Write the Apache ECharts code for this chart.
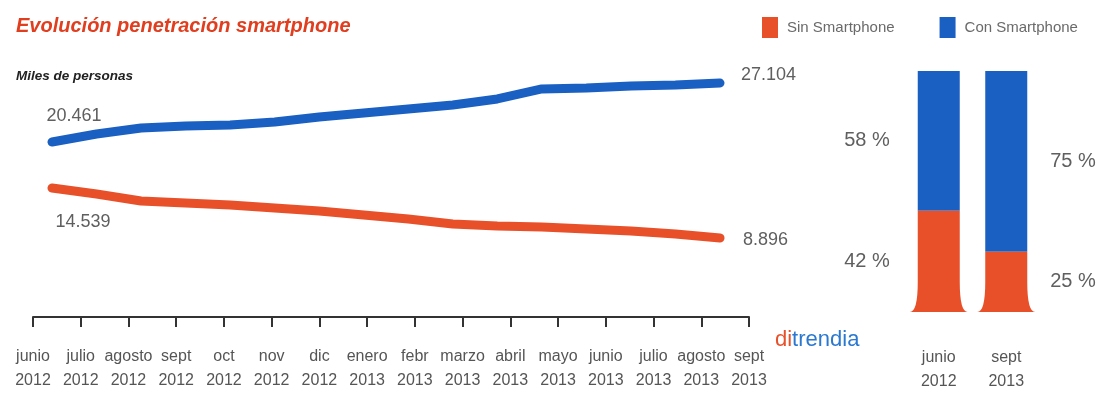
<!DOCTYPE html>
<html>
<head>
<meta charset="utf-8">
<script src="https://cdn.jsdelivr.net/npm/echarts@6/dist/echarts.min.js"></script>
<style>
  html, body { margin: 0; padding: 0; background: #fff; }
  #chart { width: 1100px; height: 394px; }
</style>
</head>
<body>
<div id="chart"></div>
<script>
// Meses del periodo (etiquetas del eje)
const meses = ['junio\n2012', 'julio\n2012', 'agosto\n2012', 'sept\n2012', 'oct\n2012', 'nov\n2012',
  'dic\n2012', 'enero\n2013', 'febr\n2013', 'marzo\n2013', 'abril\n2013', 'mayo\n2013',
  'junio\n2013', 'julio\n2013', 'agosto\n2013', 'sept\n2013'];

// Miles de personas
const conSmartphone = [20461, 21362, 22037, 22262, 22375, 22713, 23276, 23726,
  24177, 24627, 25303, 26429, 26541, 26766, 26879, 27104];
const sinSmartphone = [14539, 13862, 13072, 12846, 12620, 12282, 11943, 11492,
  11040, 10476, 10250, 10137, 9913, 9686, 9347, 8896];

// Reparto porcentual al inicio y al final
const fechasBarras = ['junio\n2012', 'sept\n2013'];
const sinPct = [42, 25];
const conPct = [58, 75];

const FONT = '"Liberation Sans", Arial, sans-serif';
const AZUL = '#1a5fc2';
const NARANJA = '#e8502a';
const GRIS = '#5f5f5f';

const fmt = v => String(v).replace(/\B(?=(\d{3})+(?!\d))/g, '.');

const labelBase = { show: true, fontFamily: FONT, fontSize: 18, color: GRIS, formatter: p => fmt(p.value) };

function conEtiquetas(values, first, last) {
  return values.map((v, i) => {
    if (i === 0) return { value: v, label: Object.assign({}, labelBase, first) };
    if (i === values.length - 1) return { value: v, label: Object.assign({}, labelBase, last) };
    return v;
  });
}

const chart = echarts.init(document.getElementById('chart'), null, { renderer: 'canvas' });

chart.setOption({
  animation: false,
  backgroundColor: '#fff',
  title: [
    {
      text: 'Evolución penetración smartphone',
      left: 11, top: 11,
      textStyle: { fontFamily: FONT, fontSize: 20, fontStyle: 'italic', fontWeight: 'bold', color: '#e03e1e' }
    },
    {
      text: 'Miles de personas',
      left: 11, top: 64,
      textStyle: { fontFamily: FONT, fontSize: 13.5, fontStyle: 'italic', fontWeight: 'bold', color: '#222' }
    }
  ],
  legend: {
    left: 757, top: 12, width: 343,
    itemWidth: 16, itemHeight: 21, itemGap: 45,
    selectedMode: false,
    itemStyle: { borderWidth: 0 },
    textStyle: { fontFamily: FONT, fontSize: 15, color: '#6a6a6a', padding: [0, 0, 0, 4] },
    data: [{ name: 'Sin Smartphone', icon: 'rect' }, { name: 'Con Smartphone', icon: 'rect' }]
  },
  graphic: [{
    type: 'text', left: 775, top: 329,
    style: {
      text: '{a|di}{b|trendia}',
      rich: {
        a: { fontFamily: FONT, fontSize: 22, fill: '#e8502a' },
        b: { fontFamily: FONT, fontSize: 22, fill: '#2a78d0' }
      }
    }
  }],
  grid: [
    { left: 33, width: 716, top: 60, height: 257 },   // eje de meses
    { left: 52, width: 668, top: 60, height: 220 },   // líneas
    { left: 905, width: 135, top: 71, height: 241 }   // barras
  ],
  xAxis: [
    {
      gridIndex: 0, type: 'category', data: meses, boundaryGap: false,
      axisLine: { lineStyle: { color: '#333', width: 2 } },
      axisTick: { length: 10, interval: 0, lineStyle: { color: '#333', width: 2 } },
      axisLabel: { interval: 0, margin: 28, fontFamily: FONT, fontSize: 16, lineHeight: 24, color: '#555' },
      splitLine: { show: false }
    },
    { gridIndex: 1, type: 'category', data: meses, boundaryGap: false, show: false },
    {
      gridIndex: 2, type: 'category', data: fechasBarras,
      axisLine: { show: false }, axisTick: { show: false },
      axisLabel: { interval: 0, margin: 34, fontFamily: FONT, fontSize: 16, lineHeight: 24, color: '#555' }
    }
  ],
  yAxis: [
    { gridIndex: 0, type: 'value', min: 0, max: 1, show: false },
    { gridIndex: 1, type: 'value', min: 4920, max: 29690, show: false },
    { gridIndex: 1, type: 'value', min: 4156, max: 28985, show: false },
    { gridIndex: 2, type: 'value', min: 0, max: 100, show: false }
  ],
  series: [
    {
      name: 'Con Smartphone', type: 'line', xAxisIndex: 1, yAxisIndex: 1,
      color: AZUL,
      symbol: 'circle', symbolSize: 2, showSymbol: true,
      lineStyle: { width: 9, color: AZUL, cap: 'round', join: 'round' },
      itemStyle: { color: AZUL },
      data: conEtiquetas(conSmartphone,
        { position: 'top', offset: [22, -11] },
        { position: 'right', distance: 20, offset: [0, -8] })
    },
    {
      name: 'Sin Smartphone', type: 'line', xAxisIndex: 1, yAxisIndex: 2,
      color: NARANJA,
      symbol: 'circle', symbolSize: 2, showSymbol: true,
      lineStyle: { width: 9, color: NARANJA, cap: 'round', join: 'round' },
      itemStyle: { color: NARANJA },
      data: conEtiquetas(sinSmartphone,
        { position: 'bottom', offset: [31, 19] },
        { position: 'right', distance: 22, offset: [0, 2] })
    },
    {
      type: 'custom', xAxisIndex: 2, yAxisIndex: 3,
      data: sinPct.map((s, i) => [i, s, conPct[i]]),
      renderItem: function (params, api) {
        const i = api.value(0);
        const sin = api.value(1);
        const con = api.value(2);
        const base = api.coord([i, 0]);
        const mid = api.coord([i, sin]);
        const top = api.coord([i, sin + con]);
        const w = 42, flare = 8, flareH = 30;
        const x0 = base[0] - w / 2, x1 = base[0] + w / 2;
        const yb = base[1], ym = mid[1], yt = top[1];
        const path = 'M' + x0 + ' ' + ym + 'L' + x1 + ' ' + ym +
          'L' + x1 + ' ' + (yb - flareH) +
          'Q' + x1 + ' ' + yb + ' ' + (x1 + flare) + ' ' + yb +
          'L' + (x0 - flare) + ' ' + yb +
          'Q' + x0 + ' ' + yb + ' ' + x0 + ' ' + (yb - flareH) + 'Z';
        const leftSide = i === 0;
        const tx = leftSide ? x0 - 28 : x1 + 23;
        const txt = (t, y) => ({
          type: 'text',
          style: {
            text: t + ' %', x: tx, y: y,
            align: leftSide ? 'right' : 'left', verticalAlign: 'middle',
            fontFamily: FONT, fontSize: 20, fill: GRIS
          }
        });
        return {
          type: 'group',
          children: [
            { type: 'rect', shape: { x: x0, y: yt, width: w, height: ym - yt }, style: { fill: AZUL } },
            { type: 'path', shape: { pathData: path }, style: { fill: NARANJA } },
            txt(con, (yt + ym) / 2),
            txt(sin, (ym + yb) / 2)
          ]
        };
      }
    }
  ]
});
</script>
</body>
</html>
